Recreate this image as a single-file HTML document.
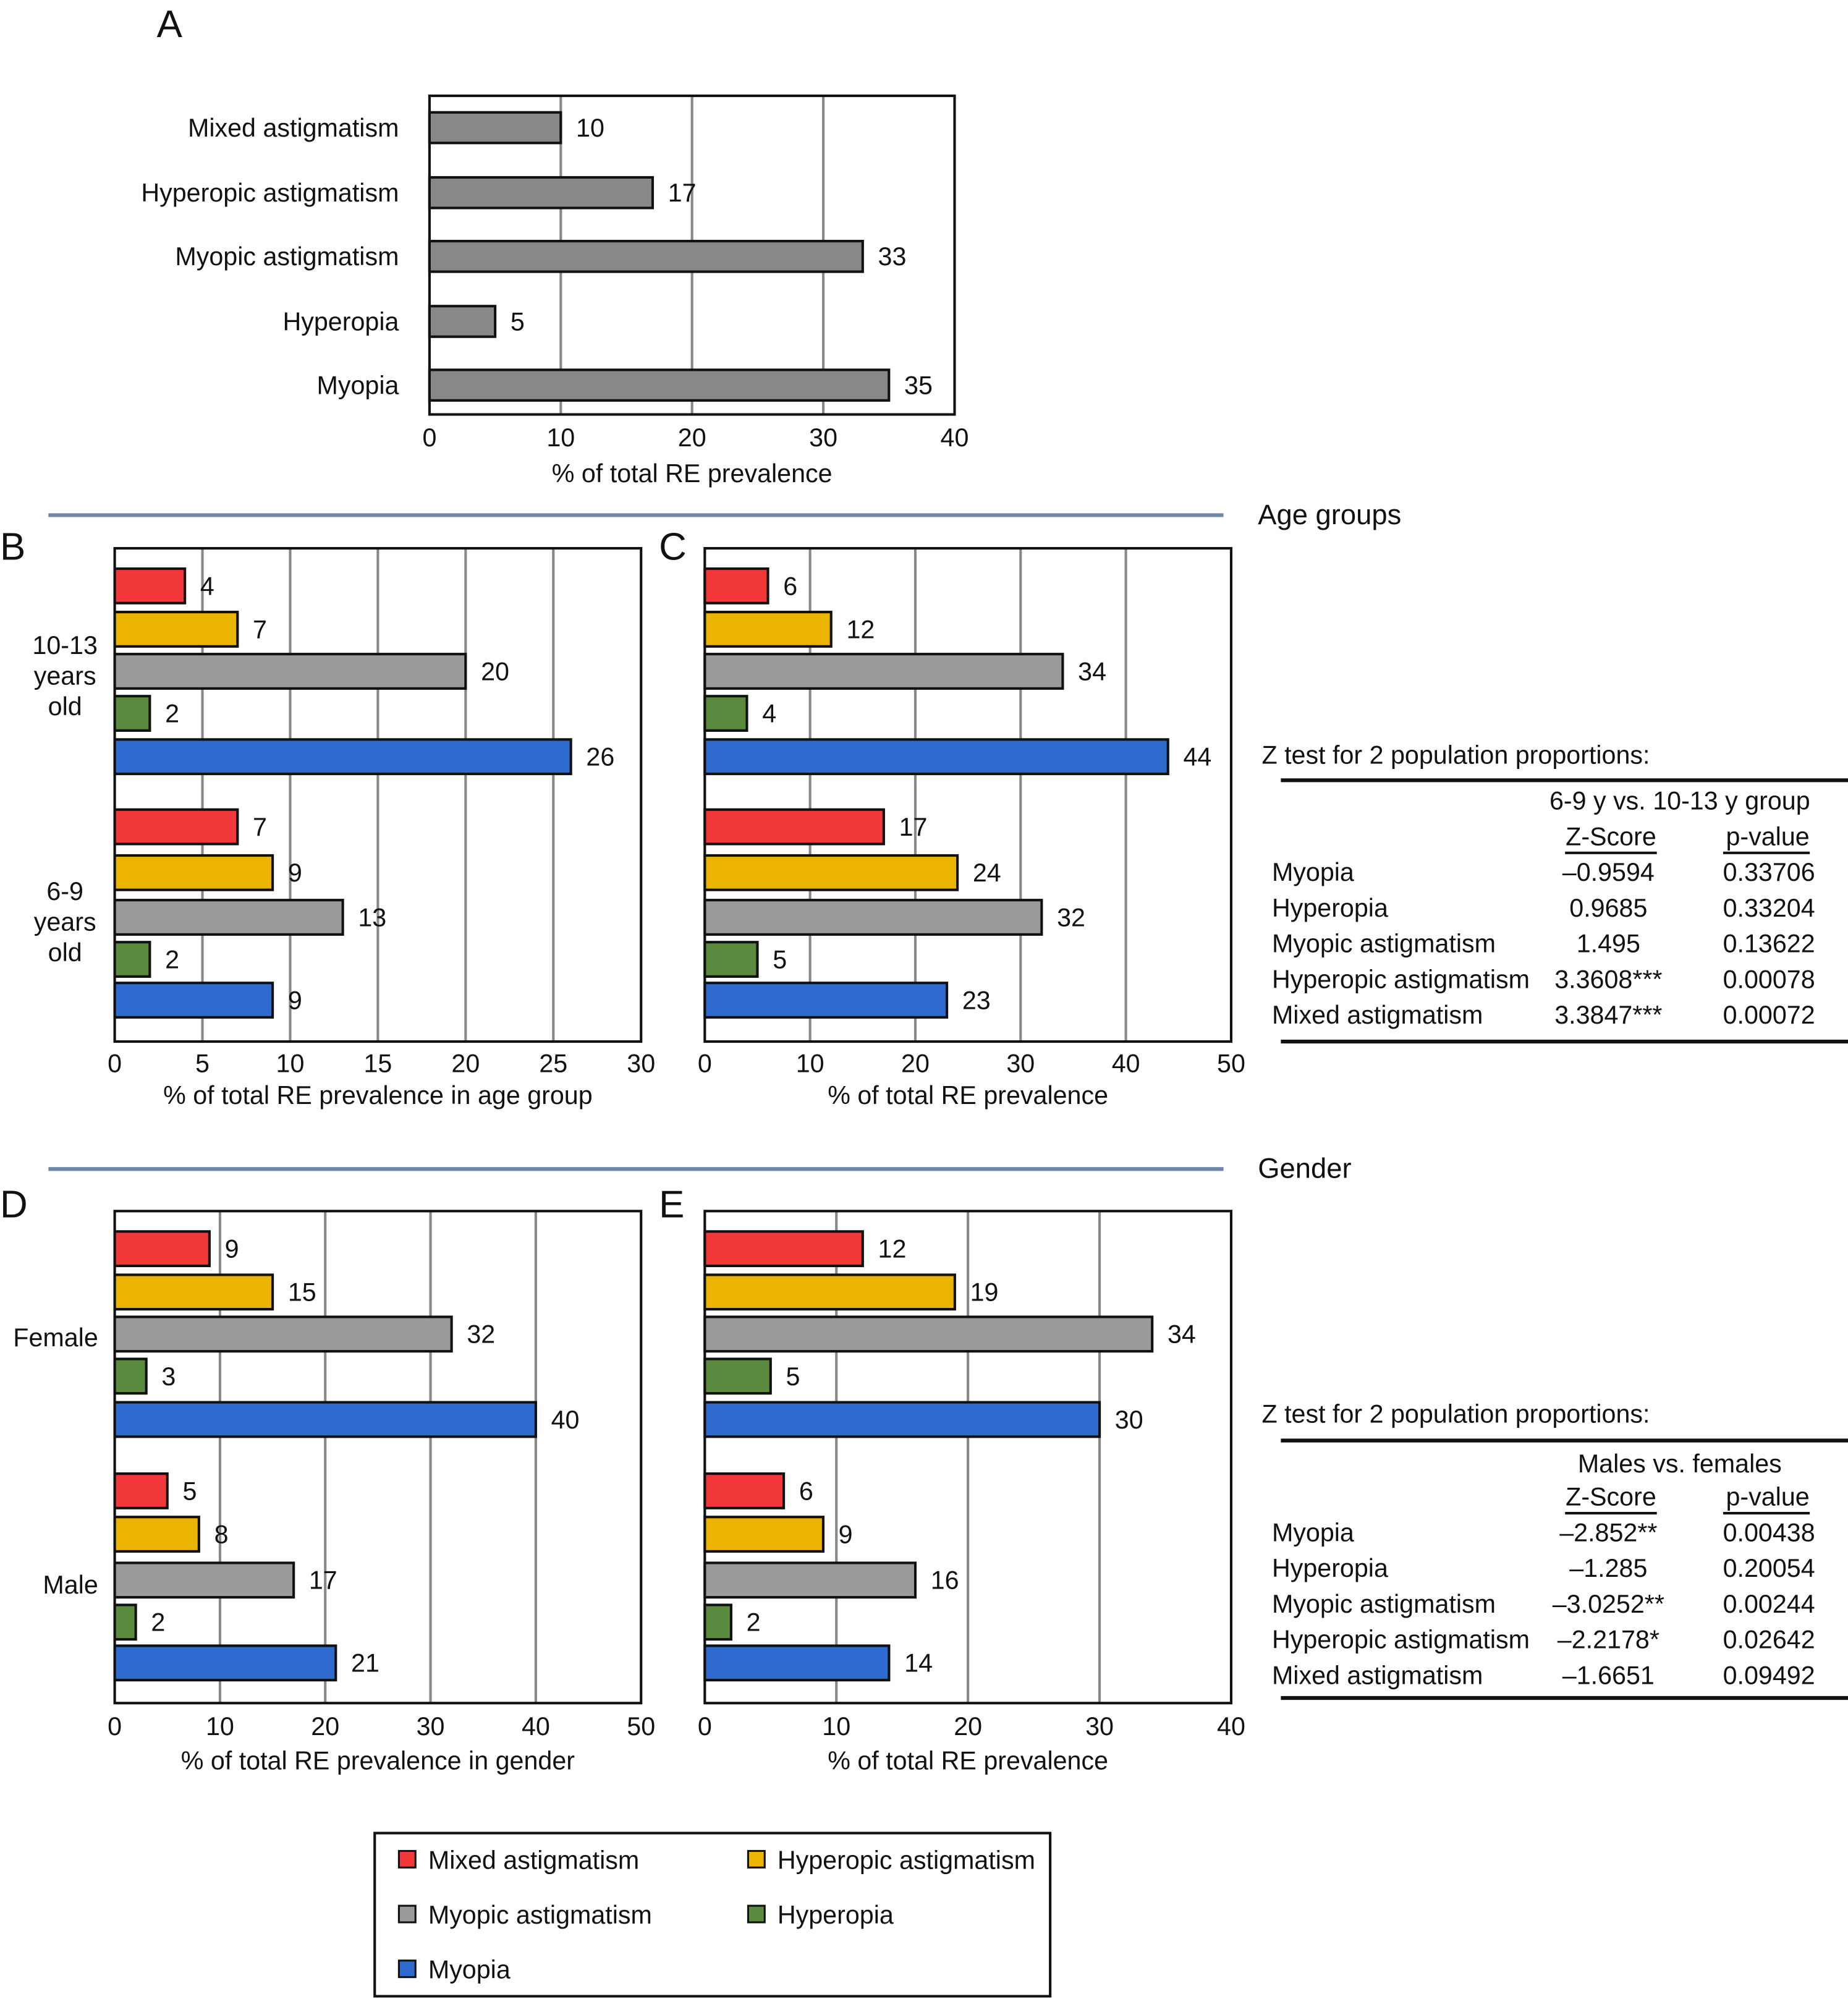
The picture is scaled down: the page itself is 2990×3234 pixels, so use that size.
<!DOCTYPE html>
<html><head><meta charset="utf-8"><style>
html,body{margin:0;padding:0;background:#fff}
svg{display:block}
text{font-family:"Liberation Sans",Arial,sans-serif;fill:#111}
</style></head><body>
<svg id="s" xmlns="http://www.w3.org/2000/svg" width="2990" height="3234" viewBox="0 0 1450 1568"></svg>
<script>
const categoriesA = ["Mixed astigmatism","Hyperopic astigmatism","Myopic astigmatism","Hyperopia","Myopia"];
const valuesA = [10,17,33,5,35];
const ticksA = [0,10,20,30,40];
const seriesNames = ["Mixed astigmatism","Hyperopic astigmatism","Myopic astigmatism","Hyperopia","Myopia"];
const valuesB_1013 = [4,7,20,2,26];
const valuesB_69 = [7,9,13,2,9];
const ticksB = [0,5,10,15,20,25,30];
const valuesC_1013 = [6,12,34,4,44];
const valuesC_69 = [17,24,32,5,23];
const ticksC = [0,10,20,30,40,50];
const valuesD_female = [9,15,32,3,40];
const valuesD_male = [5,8,17,2,21];
const ticksD = [0,10,20,30,40,50];
const valuesE_female = [12,19,34,5,30];
const valuesE_male = [6,9,16,2,14];
const ticksE = [0,10,20,30,40];

const colors = ["#f23838","#ebb400","#9a9a9a","#5a8a3e","#2f6bcf"];
const FS = 20;
const NS="http://www.w3.org/2000/svg";
const svg=document.getElementById('s');
function el(tag,attrs,parent){const e=document.createElementNS(NS,tag);for(const k in attrs)e.setAttribute(k,attrs[k]);(parent||svg).appendChild(e);return e;}
function txt(x,y,s,size,anchor,parent){const t=el('text',{x:x,y:y,'font-size':size||FS,'text-anchor':anchor||'start'},parent);t.textContent=s;return t;}

function axes(g,x0,x1,y0,y1,ticks,title,tickY,titleY){
  const max=ticks[ticks.length-1];
  const sx=v=>x0+(x1-x0)*v/max;
  ticks.forEach((t,i)=>{ if(i>0&&i<ticks.length-1){const l=el('line',{x1:sx(t),x2:sx(t),y1:y0,y2:y1,stroke:'#888','stroke-width':2},g);
    
    }
    const tl=txt(sx(t),tickY,String(t),FS,'middle',g);
    
    
  });
  const r=el('rect',{x:x0,y:y0,width:x1-x0,height:y1-y0,fill:'none',stroke:'#111','stroke-width':2},g);
  
  
  const tt=txt((x0+x1)/2,titleY,title,FS,'middle',g);
  
  
  return sx;
}
function bars(g,sx,vals,ys,h,fills,x0){
  vals.forEach((v,i)=>{
    const b=el('rect',{x:x0,y:ys[i],width:sx(v)-x0,height:h,fill:fills[i],stroke:'#111','stroke-width':2},g);
    
    
    const l=txt(sx(v)+12,ys[i]+h/2+7,String(v),FS,'start',g);
    
    
  });
}

// Panel A
{const g=el('g',{});
 const pl=txt(123,29,'A',30,'start',g);
 const sx=axes(g,337,749,75,325,ticksA,'% of total RE prevalence',350,378);
 const ys=[88,139,189,240,290];
 bars(g,sx,valuesA,ys,24,valuesA.map(()=>'#888'),337);
 categoriesA.forEach((c,i)=>{const t=txt(313,ys[i]+19,c,FS,'end',g);});
}
const ysTop1=[446,480,513,546,580], ysBot1=[635,671,706,739,771];
const ysTop2=[966,1000,1033,1066,1100], ysBot2=[1156,1190,1226,1259,1291];
function panel(name,label,lx,ly,x0,x1,y0,y1,ticks,title,tickY,titleY,v1,v2,yt,yb){
  const g=el('g',{});
  const pl=txt(lx,ly,label,30,'start',g);
  const sx=axes(g,x0,x1,y0,y1,ticks,title,tickY,titleY);
  bars(g,sx,v1,yt,27,colors,x0);bars(g,sx,v2,yb,27,colors,x0);
  return g;
}
const gB=panel('panel-b','B',0,439,90,503,430,817,ticksB,'% of total RE prevalence in age group',841,866,valuesB_1013,valuesB_69,ysTop1,ysBot1);
[['10-13',513],['years',537],['old',561],['6-9',706],['years',730],['old',754]].forEach(a=>{const t=txt(51,a[1],a[0],FS,'middle',gB);});
panel('panel-c','C',517,439,553,966,430,817,ticksC,'% of total RE prevalence',841,866,valuesC_1013,valuesC_69,ysTop1,ysBot1);
const gD=panel('panel-d','D',0,955,90,503,950,1336,ticksD,'% of total RE prevalence in gender',1361,1388,valuesD_female,valuesD_male,ysTop2,ysBot2);
[['Female',1056],['Male',1250]].forEach(a=>{const t=txt(77,a[1],a[0],FS,'end',gD);});
panel('panel-e','E',517,955,553,966,950,1336,ticksE,'% of total RE prevalence',1361,1388,valuesE_female,valuesE_male,ysTop2,ysBot2);

// separators
[[404,'Age groups'],[917,'Gender']].forEach(a=>{
  const l=el('line',{x1:38,x2:960,y1:a[0],y2:a[0],stroke:'#6f88a8','stroke-width':3});
  
  const t=txt(987,a[0]+7,a[1],22,'start');
});

// tables
function table(name,top,o,head,rows){
  const g=el('g',{});
  const t0=txt(990,top,'Z test for 2 population proportions:',FS,'start',g);
  el('line',{x1:1005,x2:1450,y1:top+o[0],y2:top+o[0],stroke:'#111','stroke-width':3},g);
  const h=txt(1318,top+o[1],head,FS,'middle',g);
  const z=txt(1264,top+o[2],'Z-Score',FS,'middle',g);
  const p=txt(1387,top+o[2],'p-value',FS,'middle',g);
  el('line',{x1:1228,x2:1300,y1:top+o[2]+6,y2:top+o[2]+6,stroke:'#111','stroke-width':2},g);
  el('line',{x1:1352,x2:1420,y1:top+o[2]+6,y2:top+o[2]+6,stroke:'#111','stroke-width':2},g);
  rows.forEach((r,i)=>{const y=top+o[3]+i*28;
    const a=txt(998,y,r[0],FS,'start',g);
    const b=txt(1262,y,r[1],FS,'middle',g);
    const c=txt(1388,y,r[2],FS,'middle',g);});
  el('line',{x1:1005,x2:1450,y1:top+o[4],y2:top+o[4],stroke:'#111','stroke-width':3},g);
}
table('z-test-table-age',599,[13,36,64,92,218],'6-9 y vs. 10-13 y group',[['Myopia','\u20130.9594','0.33706'],['Hyperopia','0.9685','0.33204'],['Myopic astigmatism','1.495','0.13622'],['Hyperopic astigmatism','3.3608***','0.00078'],['Mixed astigmatism','3.3847***','0.00072']]);
table('z-test-table-gender',1116,[14,39,65,93,216],'Males vs. females',[['Myopia','\u20132.852**','0.00438'],['Hyperopia','\u20131.285','0.20054'],['Myopic astigmatism','\u20133.0252**','0.00244'],['Hyperopic astigmatism','\u20132.2178*','0.02642'],['Mixed astigmatism','\u20131.6651','0.09492']]);

// legend
{const g=el('g',{});
 el('rect',{x:294,y:1438,width:530,height:128,fill:'#fff',stroke:'#111','stroke-width':2},g);
 const pos=[[313,1459],[587,1459],[313,1502],[587,1502],[313,1545]];
 seriesNames.forEach((n,i)=>{
  const s=el('rect',{x:pos[i][0],y:pos[i][1]-7,width:13,height:13,fill:colors[i],stroke:'#111','stroke-width':1.5},g);
  
  const t=txt(pos[i][0]+23,pos[i][1]+7,n,FS,'start',g);
 });
}
</script>
</body></html>
